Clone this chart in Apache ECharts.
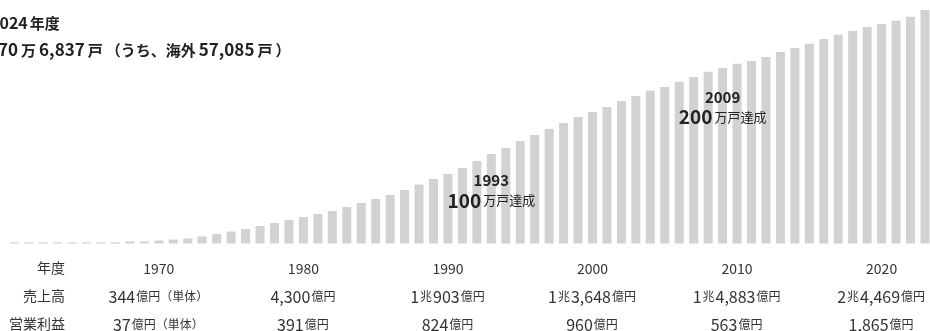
<!DOCTYPE html>
<html>
<head>
<meta charset="utf-8">
<script src="https://cdn.jsdelivr.net/npm/echarts@6/dist/echarts.min.js"></script>
<style>
html,body{margin:0;padding:0;background:#fff;}
#main{width:930px;height:331px;}
</style>
</head>
<body>
<div id="main"></div>
<script>
// ---- data ----
const years = ['1960','1961','1962','1963','1964','1965','1966','1967','1968','1969',
  '1970','1971','1972','1973','1974','1975','1976','1977','1978','1979',
  '1980','1981','1982','1983','1984','1985','1986','1987','1988','1989',
  '1990','1991','1992','1993','1994','1995','1996','1997','1998','1999',
  '2000','2001','2002','2003','2004','2005','2006','2007','2008','2009',
  '2010','2011','2012','2013','2014','2015','2016','2017','2018','2019',
  '2020','2021','2022','2023'];
// cumulative houses built (万戸)
const houses = [1.4,1.4,1.4,1.4,1.4,1.4,1.4,1.4,2.3,2.3,
  3.4,4.5,5.7,8.0,10.8,13.6,16.5,19.9,23.3,26.7,
  30.1,33.5,36.9,41.5,46.0,50.6,55.1,60.8,67.0,73.3,
  79.0,85.8,93.8,101.7,108.5,116.5,123.3,130.1,136.9,143.8,
  149.4,155.1,161.9,167.6,173.5,177.8,183.9,189.2,195.2,199.4,
  204.3,207.4,211.9,217.6,222.2,227.0,232.4,237.3,241.5,246.0,
  249.4,253.2,257.7,265.3];
const tableYears = ['1970','1980','1990','2000','2010','2020'];
const sales = ['344億円（単体）','4,300億円','1兆903億円','1兆3,648億円','1兆4,883億円','2兆4,469億円'];
const profits = ['37億円（単体）','391億円','824億円','960億円','563億円','1,865億円'];
const rowLabels = ['年度','売上高','営業利益'];
const milestoneYears = ['1993','2009'];
const milestoneCounts = ['100','200'];
const titleYear = '2024';
const titleTotal = '270万6,837戸';
const titleOverseas = '57,085戸';

// ---- helpers ----
function toRich(str, numStyle, unitStyle) {
  return str.replace(/([0-9,]+)|([^0-9,]+)/g, function (m, num, other) {
    return num ? '{' + numStyle + '|' + num + '}' : '{' + unitStyle + '|' + other + '}';
  });
}

const FONT = '"Noto Sans CJK JP", "Noto Sans", sans-serif';
const chart = echarts.init(document.getElementById('main'), null, {renderer: 'canvas'});

const option = {
  animation: false,
  backgroundColor: '#ffffff',
  grid: {left: 7.07, right: -2.2, top: 1.5, bottom: 87.5, containLabel: false, outerBoundsMode: 'none'},
  xAxis: {
    type: 'category',
    data: years,
    axisLine: {show: false},
    axisTick: {show: false},
    axisLabel: {
      interval: function (index, value) { return tableYears.indexOf(value) >= 0; },
      margin: 11,
      fontFamily: FONT,
      color: '#333',
      formatter: function (value) {
        const i = tableYears.indexOf(value);
        if (i < 0) return '';
        return '{y|' + value + '}\n' + toRich(sales[i], 'n', 'u') + '\n' + toRich(profits[i], 'n', 'u');
      },
      rich: {
        y: {fontSize: 14, lineHeight: 28, color: '#333', fontFamily: FONT},
        n: {fontSize: 16, lineHeight: 28, color: '#333', fontFamily: FONT},
        u: {fontSize: 12, lineHeight: 28, color: '#333', fontFamily: FONT, padding: [0, 1, 0, 1]}
      }
    }
  },
  yAxis: {
    type: 'value', min: 0, max: 275,
    show: false,
    splitLine: {show: false}
  },
  series: [{
    type: 'bar',
    data: houses,
    barWidth: 9,
    itemStyle: {color: '#d1d2d4'},
    silent: true
  }]
};
chart.setOption(option);

// ---- text overlays ----
const graphics = [];
const rowY = [268, 296, 324];
rowLabels.forEach(function (t, i) {
  graphics.push({
    type: 'text', z: 100,
    style: {text: t, x: 65, y: rowY[i], align: 'right', verticalAlign: 'middle',
      textAlign: 'right', textVerticalAlign: 'middle',
      font: '14px ' + FONT, fill: '#333'}
  });
});
const titleRich1 = {
  d: {fontSize: 16, fontWeight: 'bold', fontFamily: FONT, fill: '#222', color: '#222', padding: [0, 2, 0, 0]},
  k: {fontSize: 15, fontWeight: 'bold', fontFamily: FONT, fill: '#222', color: '#222', padding: [0, 2, 0, 0]}
};
const titleRich2 = {
  d: {fontSize: 17, fontWeight: 'bold', fontFamily: FONT, fill: '#222', color: '#222', padding: [0, 3, 0, 0]},
  k: {fontSize: 15, fontWeight: 'bold', fontFamily: FONT, fill: '#222', color: '#222', padding: [0, 3, 0, 0]}
};
graphics.push({
  type: 'text', z: 100,
  style: {text: '{d|' + titleYear + '}{k|年度}', x: -10, y: 23, verticalAlign: 'middle', textVerticalAlign: 'middle',
    rich: titleRich1}
});
graphics.push({
  type: 'text', z: 100,
  style: {text: toRich(titleTotal, 'd', 'k') + '{k|（うち、海外}' + toRich(titleOverseas, 'd', 'k') + '{k|）}',
    x: -12, y: 50, verticalAlign: 'middle', textVerticalAlign: 'middle', rich: titleRich2}
});
const msCenterY = [190.5, 107.25];
milestoneYears.forEach(function (yr, i) {
  const px = chart.convertToPixel({xAxisIndex: 0}, yr);
  graphics.push({
    type: 'text', z: 100,
    style: {
      text: '{a|' + yr + '}\n{b|' + milestoneCounts[i] + '}{c|万戸達成}',
      x: px, y: msCenterY[i], align: 'center', verticalAlign: 'middle',
      textAlign: 'center', textVerticalAlign: 'middle',
      rich: {
        a: {fontSize: 15, fontWeight: 'bold', fontFamily: FONT, fill: '#222', color: '#222', lineHeight: 20, align: 'center'},
        b: {fontSize: 19, fontWeight: 'bold', fontFamily: FONT, fill: '#222', color: '#222', lineHeight: 20, padding: [0, 2, 0, 0]},
        c: {fontSize: 13, fontFamily: FONT, fill: '#222', color: '#222', lineHeight: 20}
      }
    }
  });
});
chart.setOption({graphic: graphics});
</script>
</body>
</html>
